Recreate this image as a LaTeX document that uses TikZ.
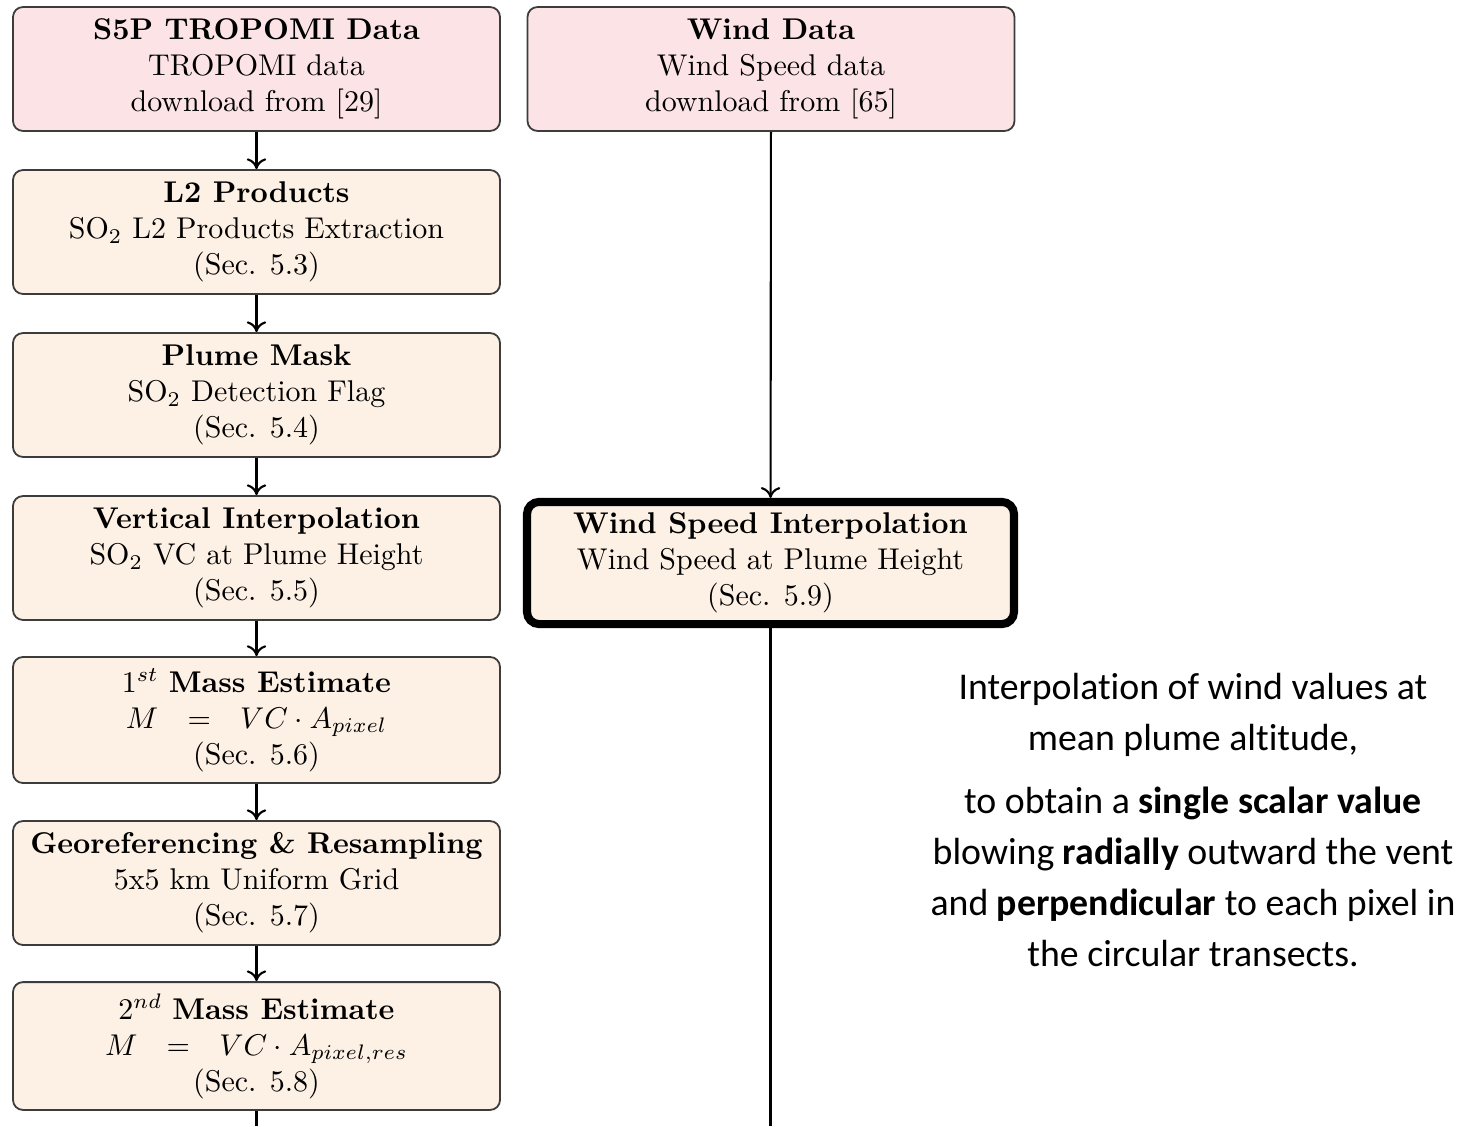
\documentclass[tikz,border=0pt]{standalone}
\usepackage{fontspec}
\newfontfamily\notefont[Ligatures={NoCommon,NoContextual},Contextuals=NoAlternate]{Carlito}
\usetikzlibrary{arrows.meta}
\definecolor{srcfill}{RGB}{252,228,230}
\definecolor{stepfill}{RGB}{253,240,228}
\definecolor{boxline}{RGB}{60,60,60}
\begin{document}
\begin{tikzpicture}[x=0.3333pt,y=-0.3333pt,
  flowbox/.style={draw=boxline,line width=0.6pt,rounded corners=3.3pt,
    minimum width=162.3pt,minimum height=41.3pt,align=center,inner sep=2pt,
    fill=stepfill,font=\normalsize},
  srcbox/.style={flowbox,fill=srcfill},
  keybox/.style={flowbox,draw=black,line width=2.7pt,minimum height=40.7pt,rounded corners=4pt},
  flow/.style={line width=0.7pt,-{To[length=3.6pt,width=6.5pt]}},
  plain/.style={line width=0.7pt}]
\useasboundingbox (0,0) rectangle (1473,1126);

% left column: TROPOMI processing chain
\node[srcbox] (s5p) at (256.5,69) {\textbf{S5P TROPOMI Data}\\TROPOMI data\\download from [29]};
\node[flowbox] (l2) at (256.5,232) {\textbf{L2 Products}\\SO$_2$ L2 Products Extraction\\(Sec. 5.3)};
\node[flowbox] (mask) at (256.5,395) {\textbf{Plume Mask}\\SO$_2$ Detection Flag\\(Sec. 5.4)};
\node[flowbox] (vint) at (256.5,558) {\textbf{Vertical Interpolation}\\SO$_2$ VC at Plume Height\\(Sec. 5.5)};
\node[flowbox,minimum height=42pt] (mass1) at (256.5,720) {1$^{st}$ \textbf{Mass Estimate}\\$M\hspace{7pt}=\hspace{7pt}VC\cdot A_{pixel}$\\(Sec. 5.6)};
\node[flowbox] (geo) at (256.5,883) {\textbf{Georeferencing \& Resampling}\\5x5 km Uniform Grid\\(Sec. 5.7)};
\node[flowbox,minimum height=42.6pt] (mass2) at (256.5,1046) {2$^{nd}$ \textbf{Mass Estimate}\\$M\hspace{7pt}=\hspace{7pt}VC\cdot A_{pixel,res}$\\(Sec. 5.8)};
\coordinate (leftend) at (256.5,1126);

% right column: wind chain
\node[srcbox] (wind) at (771,69) {\textbf{Wind Data}\\Wind Speed data\\download from [65]};
\node[keybox] (wint) at (770.5,563) {\textbf{Wind Speed Interpolation}\\Wind Speed at Plume Height\\(Sec. 5.9)};
\coordinate (rightend) at (770.5,1126);

% connectors
\draw[flow] (s5p) -- (l2);
\draw[flow] (l2) -- (mask);
\draw[flow] (mask) -- (vint);
\draw[flow] (vint) -- (mass1);
\draw[flow] (mass1) -- (geo);
\draw[flow] (geo) -- (mass2);
\draw[plain] (mass2) -- (leftend);
\draw[flow] (wind) -- (wint);
\draw[plain] (wint) -- (rightend);

% explanatory note
\node[align=center,font=\notefont\fontsize{12.6pt}{17pt}\selectfont,inner sep=0pt] (note) at (1193,820)
  {Interpolation of wind values at\\mean plume altitude,\\[3.7pt]
   to obtain a \textbf{single scalar value}\\blowing \textbf{radially} outward the vent\\
   and \textbf{perpendicular} to each pixel in\\the circular transects.};
\end{tikzpicture}
\end{document}
